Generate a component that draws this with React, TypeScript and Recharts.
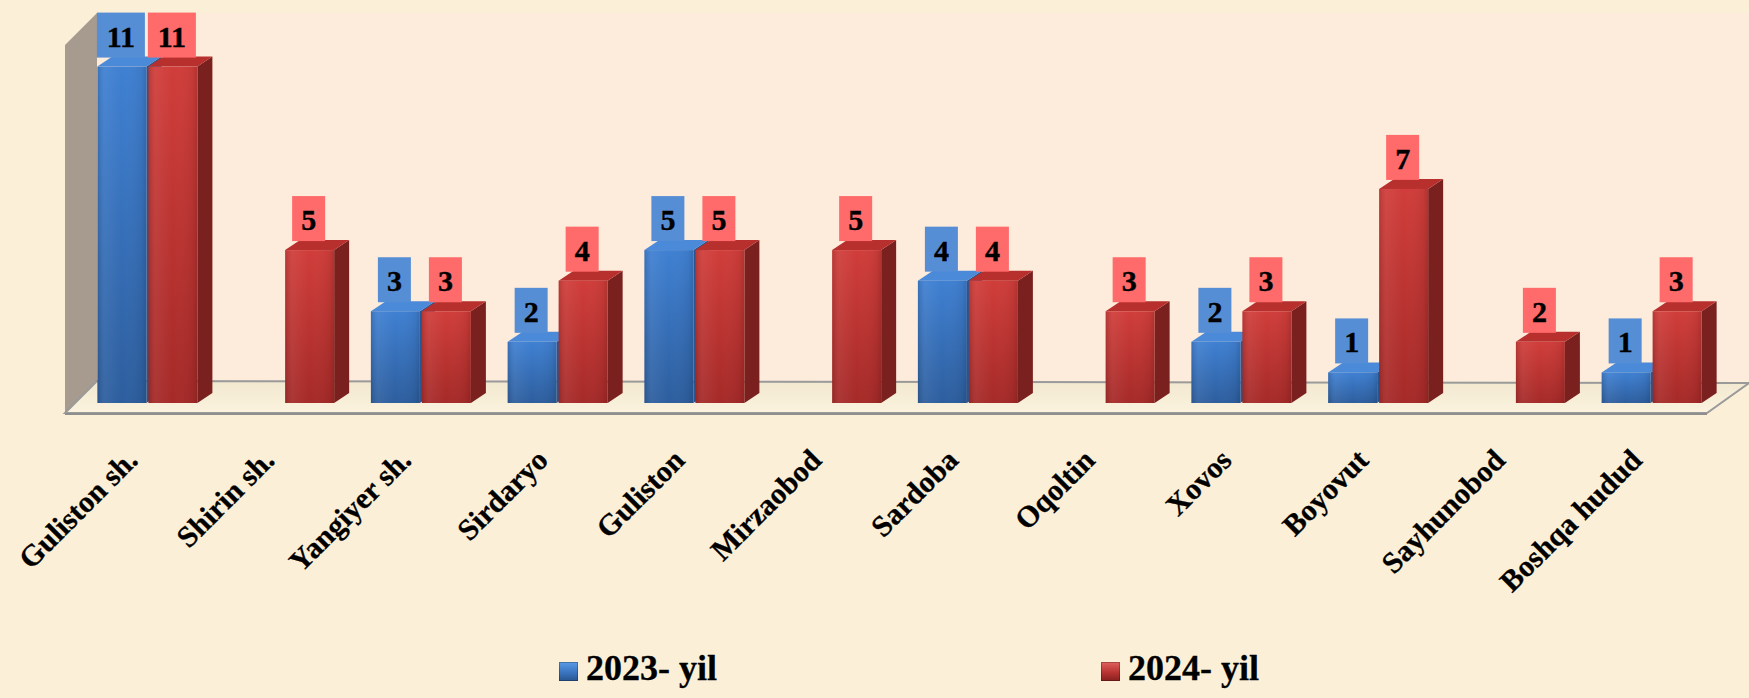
import React from 'react';
import { BarChart, Bar, XAxis, YAxis, LabelList, Legend, usePlotArea } from 'recharts';

const categories = ['Guliston sh.', 'Shirin sh.', 'Yangiyer sh.', 'Sirdaryo', 'Guliston', 'Mirzaobod', 'Sardoba', 'Oqoltin', 'Xovos', 'Boyovut', 'Sayhunobod', 'Boshqa hudud'];
const values2023: (number | null)[] = [11, null, 3, 2, 5, null, 4, null, 2, 1, null, 1];
const values2024: (number | null)[] = [11, 5, 3, 4, 5, 5, 4, 3, 3, 7, 2, 3];
const seriesNames = ['2023- yil', '2024- yil'];

const data = categories.map((name, i) => ({ name, y2023: values2023[i], y2024: values2024[i] }));

const FONT = "'Liberation Serif', 'Times New Roman', serif";
const W = 1749;
const H = 698;

const PALETTE: Record<string, { top: string; bottom: string; side: string; cap: string; box: string }> = {
  blue: { top: '#3F80D2', bottom: '#2D5E9E', side: '#2A5591', cap: '#4B8AD8', box: '#568ED6' },
  red: { top: '#D03D3A', bottom: '#A52A28', side: '#7A201E', cap: '#B8302E', box: '#FF6A6A' },
};

const DX = 15;
const DY = 10;

const Bar3D = (props: any) => {
  const { x, y, width, height, kind } = props;
  if (height == null || height <= 0) return null;
  const c = PALETTE[kind];
  const b = y + height;
  return (
    <g>
      <polygon points={`${x + width},${y} ${x + width + DX},${y - DY} ${x + width + DX},${b - DY} ${x + width},${b}`} fill={c.side} />
      <polygon points={`${x},${y} ${x + DX},${y - DY} ${x + width + DX},${y - DY} ${x + width},${y}`} fill={c.cap} />
      <rect x={x} y={y} width={width} height={height} fill={`url(#front-${kind})`} />
      <rect x={x} y={y} width={width} height={height} fill="url(#front-shine)" />
    </g>
  );
};

const makeLabel = (kind: string) => (props: any) => {
  const { x, y, width, value } = props;
  if (value == null || value === 0) return null;
  const s = String(value);
  const bw = s.length * 15 + 18;
  const bh = 45;
  const cx = x + width / 2 - 1;
  const bottom = y - 9;
  return (
    <g>
      <rect x={cx - bw / 2} y={bottom - bh} width={bw} height={bh} fill={PALETTE[kind].box} />
      <text x={cx} y={bottom - bh + 34} textAnchor="middle" fontFamily={FONT} fontWeight="bold" fontSize={30} fill="#000" stroke="#000" strokeWidth={0.4}>
        {s}
      </text>
    </g>
  );
};

const AxisTick = (props: any) => {
  const { x, y, payload } = props;
  const tx = x - 8;
  const ty = y + 59;
  return (
    <text x={tx} y={ty} transform={`rotate(-45, ${tx}, ${ty})`} textAnchor="end" fontFamily={FONT} fontWeight="bold" fontSize={30} fill="#000" stroke="#000" strokeWidth={0.3}>
      {payload.value}
    </text>
  );
};

const Room = () => {
  const p = usePlotArea();
  if (!p) return null;
  const px = p.x;
  const py = p.y;
  const pb = p.y + p.height;
  const pr = p.x + p.width;
  const backL = px + 18;
  const backTop = py - 23;
  const backBottom = pb - 22;
  const frontL = px - 14;
  const frontY = pb + 10;
  return (
    <g>
      <defs>
        <linearGradient id="front-blue" x1="0" y1="0" x2="0" y2="1">
          <stop offset="0" stopColor={PALETTE.blue.top} />
          <stop offset="1" stopColor={PALETTE.blue.bottom} />
        </linearGradient>
        <linearGradient id="front-red" x1="0" y1="0" x2="0" y2="1">
          <stop offset="0" stopColor={PALETTE.red.top} />
          <stop offset="1" stopColor={PALETTE.red.bottom} />
        </linearGradient>
        <linearGradient id="front-shine" x1="0" y1="0" x2="1" y2="0">
          <stop offset="0" stopColor="#000" stopOpacity="0.12" />
          <stop offset="0.15" stopColor="#fff" stopOpacity="0.06" />
          <stop offset="0.5" stopColor="#fff" stopOpacity="0" />
          <stop offset="0.9" stopColor="#000" stopOpacity="0.05" />
          <stop offset="1" stopColor="#000" stopOpacity="0.15" />
        </linearGradient>
        <linearGradient id="floor-grad" x1="0" y1="0" x2="0" y2="1">
          <stop offset="0" stopColor="#F2E8D0" />
          <stop offset="1" stopColor="#FBF3DE" />
        </linearGradient>
      </defs>
      <rect x={backL} y={backTop} width={W - backL} height={backBottom - backTop} fill="#FDEBDB" />
      <polygon points={`${frontL},${py + 9} ${backL},${backTop} ${backL},${backBottom} ${frontL},${frontY}`} fill="#A79B90" />
      <polygon
        points={`${backL},${backBottom} ${W},${backBottom + 2} ${pr - 13},${frontY} ${frontL},${frontY}`}
        fill="url(#floor-grad)"
        stroke="#9A9A9A"
        strokeWidth={2}
      />
      <line x1={frontL} y1={frontY + 1} x2={pr - 13} y2={frontY + 1} stroke="#8E8E8E" strokeWidth={2} />
    </g>
  );
};

const LegendContent = (props: any) => {
  const payload = props.payload || [];
  const positions = [559, 1101];
  const grads = [
    'linear-gradient(180deg, #5C9BE6 0%, #3A74C0 55%, #28558F 100%)',
    'linear-gradient(180deg, #E0625E 0%, #B73431 55%, #86201F 100%)',
  ];
  return (
    <div style={{ position: 'relative', width: W, height: 40 }}>
      {payload.map((entry: any, i: number) => (
        <div key={i} style={{ position: 'absolute', left: positions[i], top: 0, height: 40, display: 'flex', alignItems: 'flex-start' }}>
          <div style={{ width: 19, height: 19, marginTop: 14, background: grads[i], boxShadow: 'inset 0 0 0 1px rgba(0,0,0,0.25)' }} />
          <span style={{ marginLeft: 8, fontFamily: FONT, fontWeight: 'bold', fontSize: 36, lineHeight: '40px', color: '#000', WebkitTextStroke: '0.3px #000' }}>{entry.value}</span>
        </div>
      ))}
    </div>
  );
};

export default function App() {
  return (
    <div style={{ position: 'absolute', left: 0, top: 0, width: W, height: H, background: '#FBF0D7', overflow: 'hidden' }}>
      <BarChart width={W} height={H} data={data} margin={{ top: 36, right: 29, bottom: 0, left: 79 }} barCategoryGap="13.45%" barGap={2}>
        <Room />
        <YAxis hide domain={[0, 12]} ticks={[0, 2, 4, 6, 8, 10, 12]} />
        <XAxis dataKey="name" height={295} axisLine={false} tickLine={false} tickSize={0} tickMargin={0} interval={0} tick={<AxisTick />} />
        <Bar dataKey="y2023" name={seriesNames[0]} fill="#3A74C0" isAnimationActive={false} shape={(p: any) => <Bar3D {...p} kind="blue" />}>
          <LabelList dataKey="y2023" content={makeLabel('blue')} />
        </Bar>
        <Bar dataKey="y2024" name={seriesNames[1]} fill="#B73431" isAnimationActive={false} shape={(p: any) => <Bar3D {...p} kind="red" />}>
          <LabelList dataKey="y2024" content={makeLabel('red')} />
        </Bar>
        <Legend layout="horizontal" verticalAlign="middle" align="center" wrapperStyle={{ left: 0, top: 648, width: W }} content={<LegendContent />} />
      </BarChart>
    </div>
  );
}
